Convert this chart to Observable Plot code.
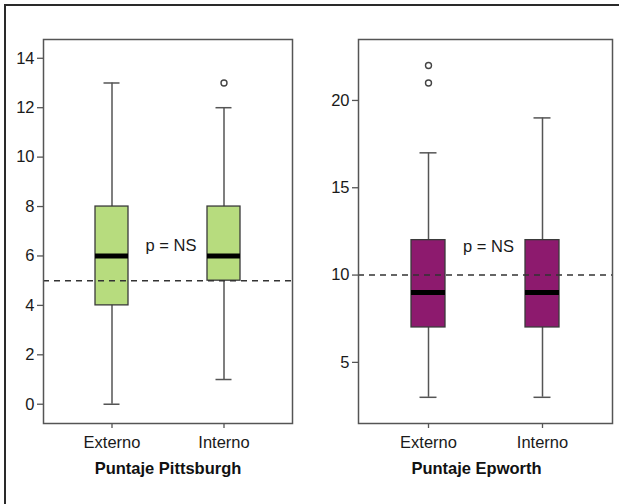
<!DOCTYPE html>
<html>
<head>
<meta charset="utf-8">
<script src="https://cdn.jsdelivr.net/npm/d3@7"></script>
<script src="https://cdn.jsdelivr.net/npm/@observablehq/plot@0.6"></script>
<style>
  html, body { margin: 0; padding: 0; background: #fff; }
  #wrap { position: relative; width: 619px; height: 504px; overflow: hidden; background: #fff; }
  #border { position: absolute; left: 4px; top: 4px; width: 700px; height: 600px;
            border-top: 2px solid #2a2a2a; border-left: 2px solid #2a2a2a; }
  #charts { position: absolute; left: 0; top: 0; display: flex; }
</style>
</head>
<body>
<div id="wrap"><div id="border"></div><div id="charts"></div></div>
<script>
// ---- data ----
const categories = ["Externo", "Interno"];

// Puntaje Pittsburgh
const pitLow    = [0, 1];
const pitQ1     = [4, 5];
const pitMedian = [6, 6];
const pitQ3     = [8, 8];
const pitHigh   = [13, 12];
const pitOutCat = ["Interno"];
const pitOutVal = [13];
const pitRef    = 5;
const pitTicks  = [0, 2, 4, 6, 8, 10, 12, 14];
const pitTitle  = "Puntaje Pittsburgh";

// Puntaje Epworth
const epwLow    = [3, 3];
const epwQ1     = [7, 7];
const epwMedian = [9, 9];
const epwQ3     = [12, 12];
const epwHigh   = [17, 19];
const epwOutCat = ["Externo", "Externo"];
const epwOutVal = [21, 22];
const epwRef    = 10;
const epwTicks  = [5, 10, 15, 20];
const epwTitle  = "Puntaje Epworth";

const pLabel = "p = NS";

function panel({low, q1, med, q3, high, outCat, outVal, ref, ticks, title, color, yDomain, width, marginLeft, marginRight, pY, titleDx, pDx}) {
  const boxes = categories.map((c, i) => ({cat: c, low: low[i], q1: q1[i], med: med[i], q3: q3[i], high: high[i]}));
  const outs = outCat.map((c, i) => ({cat: c, v: outVal[i]}));
  return Plot.plot({
    width, height: 504,
    marginLeft, marginRight, marginTop: 39, marginBottom: 81,
    style: {fontFamily: "'Liberation Sans', Arial, sans-serif", fontSize: "16px", background: "transparent", color: "#222"},
    x: {type: "band", domain: categories, paddingInner: 0.705, paddingOuter: 0.464, label: null},
    y: {domain: yDomain, label: null},
    marks: [
      Plot.axisY({ticks, tickSize: 6, tickPadding: 3, stroke: "#555", strokeWidth: 1.3, fill: "#1a1a1a", label: null, fontSize: 16.5}),
      Plot.axisX({tickSize: 5, tickPadding: 8, stroke: "#555", strokeWidth: 1.3, fill: "#1a1a1a", label: null, fontSize: 16.5}),
      Plot.ruleX(boxes, {x: "cat", y1: "low", y2: "high", stroke: "#555", strokeWidth: 1.5}),
      Plot.tickY(boxes, {x: "cat", y: "low", stroke: "#555", strokeWidth: 1.5, insetLeft: 8.5, insetRight: 8.5}),
      Plot.tickY(boxes, {x: "cat", y: "high", stroke: "#555", strokeWidth: 1.5, insetLeft: 8.5, insetRight: 8.5}),
      Plot.barY(boxes, {x: "cat", y1: "q1", y2: "q3", fill: color, stroke: "#3a3a3a", strokeWidth: 1.3}),
      Plot.tickY(boxes, {x: "cat", y: "med", stroke: "#000", strokeWidth: 5}),
      Plot.ruleY([ref], {stroke: "#333", strokeWidth: 1.5, strokeDasharray: "6,5"}),
      Plot.dot(outs, {x: "cat", y: "v", r: 3, stroke: "#444", strokeWidth: 1.4, fill: "#fff"}),
      Plot.text([pLabel], {text: d => d, y: () => pY, frameAnchor: "middle", lineAnchor: "middle", dx: pDx, fontSize: 16.5, fill: "#1a1a1a"}),
      Plot.text([title], {text: d => d, frameAnchor: "bottom", lineAnchor: "middle", dy: 45, dx: titleDx, fontSize: 16.5, fontWeight: "bold", fill: "#111"}),
      Plot.frame({stroke: "#555", strokeWidth: 1.5})
    ]
  });
}

const charts = document.getElementById("charts");
charts.append(panel({
  low: pitLow, q1: pitQ1, med: pitMedian, q3: pitQ3, high: pitHigh,
  outCat: pitOutCat, outVal: pitOutVal, ref: pitRef, ticks: pitTicks, title: pitTitle,
  color: "#b7dc7e", yDomain: [-0.78, 14.76], width: 310, marginLeft: 43, marginRight: 18,
  pY: 6.43, titleDx: 0, pDx: 3
}));
charts.append(panel({
  low: epwLow, q1: epwQ1, med: epwMedian, q3: epwQ3, high: epwHigh,
  outCat: epwOutCat, outVal: epwOutVal, ref: epwRef, ticks: epwTicks, title: epwTitle,
  color: "#8d1a6e", yDomain: [1.5, 23.49], width: 309, marginLeft: 48, marginRight: 7,
  pY: 11.64, titleDx: -9, pDx: 3
}));
</script>
</body>
</html>
